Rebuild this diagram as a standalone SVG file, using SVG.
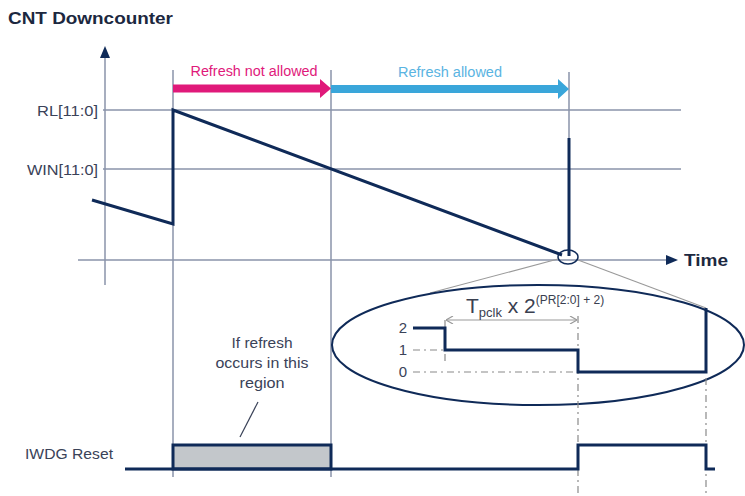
<svg xmlns="http://www.w3.org/2000/svg" width="745" height="496" viewBox="0 0 745 496">
<defs>
<style>
.grid{stroke:#8a93aa;stroke-width:1.5;fill:none}
.sig{stroke:#0f2a58;stroke-width:3;fill:none;stroke-linejoin:miter}
.thin{stroke:#9a9a9a;stroke-width:1.2;fill:none}
.dash{stroke:#8a8a8a;stroke-width:1.2;fill:none;stroke-dasharray:7 4 2 4}
.lbl{font-family:"Liberation Sans",Arial,sans-serif;font-size:15px;fill:#3a4258}
.bold{font-family:"Liberation Sans",Arial,sans-serif;font-weight:bold;fill:#1c2840}
</style>
<marker id="dimL" markerWidth="8" markerHeight="8" refX="0" refY="4" orient="auto" markerUnits="userSpaceOnUse">
<path d="M7,0 L0,4 L7,8" fill="none" stroke="#9a9a9a" stroke-width="1.2"/>
</marker>
<marker id="dimR" markerWidth="8" markerHeight="8" refX="8" refY="4" orient="auto" markerUnits="userSpaceOnUse">
<path d="M1,0 L8,4 L1,8" fill="none" stroke="#9a9a9a" stroke-width="1.2"/>
</marker>
</defs>
<rect width="745" height="496" fill="#ffffff"/>
<text class="bold" x="8" y="24" font-size="17" textLength="165" lengthAdjust="spacingAndGlyphs">CNT Downcounter</text>

<g id="axes">
<line class="grid" x1="105" y1="285" x2="105" y2="56" stroke="#0f2a58"/>
<path d="M100,58 L105,46 L110,58 Z" fill="#0f2a58"/>
<line class="grid" x1="78" y1="260" x2="668" y2="260"/>
<path d="M666,255 L678,260 L666,265 Z" fill="#0f2a58"/>
<text class="bold" x="684" y="266" font-size="17" textLength="44" lengthAdjust="spacingAndGlyphs">Time</text>
</g>

<g id="grid">
<line class="grid" x1="103" y1="110" x2="681" y2="110"/>
<line class="grid" x1="103" y1="169" x2="681" y2="169"/>
<line class="grid" x1="173" y1="70" x2="173" y2="477"/>
<line class="grid" x1="331" y1="70" x2="331" y2="477"/>
<line class="grid" x1="569" y1="72" x2="569" y2="140"/>
<text class="lbl" x="98" y="116" text-anchor="end" textLength="61" lengthAdjust="spacingAndGlyphs">RL[11:0]</text>
<text class="lbl" x="98" y="175" text-anchor="end" textLength="71" lengthAdjust="spacingAndGlyphs">WIN[11:0]</text>
</g>

<g id="refresh-not-allowed">
<path d="M173,84.5 L320,84.5 L320,79 L331,88.5 L320,98 L320,92.5 L173,92.5 Z" fill="#e0197a"/>
<text class="lbl" x="254" y="76" text-anchor="middle" style="font-size:14px;fill:#e0197a" textLength="127" lengthAdjust="spacingAndGlyphs">Refresh not allowed</text>
</g>
<g id="refresh-allowed">
<path d="M331,85 L558,85 L558,79 L569,89 L558,99 L558,93 L331,93 Z" fill="#3aa6da"/>
<text class="lbl" x="450" y="77" text-anchor="middle" style="font-size:14px;fill:#5ab4e2" textLength="104" lengthAdjust="spacingAndGlyphs">Refresh allowed</text>
</g>

<g id="counter">
<path class="sig" d="M92,200 L173,224 L173,110 L562,255"/>
<line class="sig" x1="569" y1="138" x2="569" y2="256"/>
<ellipse cx="568" cy="257" rx="10" ry="7" fill="none" stroke="#0f2a58" stroke-width="1.5"/>
</g>

<g id="connectors">
<line class="thin" x1="558" y1="259" x2="430" y2="293"/>
<line class="thin" x1="578" y1="260" x2="706" y2="308"/>
</g>

<g id="zoom">
<ellipse cx="538" cy="345" rx="206" ry="60" fill="none" stroke="#0f2a58" stroke-width="2"/>
<line class="dash" x1="413" y1="350" x2="445" y2="350"/>
<line class="dash" x1="413" y1="372" x2="578" y2="372"/>
<line class="dash" x1="445" y1="320" x2="445" y2="362"/>
<line class="dash" x1="578" y1="316" x2="578" y2="496"/>
<line class="dash" x1="706" y1="378" x2="706" y2="496"/>
<path class="sig" d="M413,328 L445,328 L445,350 L578,350 L578,372 L706,372 L706,308"/>
<line class="thin" x1="446" y1="320" x2="577" y2="320" marker-start="url(#dimL)" marker-end="url(#dimR)"/>
<text class="lbl" x="403" y="333" text-anchor="middle" font-size="15">2</text>
<text class="lbl" x="403" y="355" text-anchor="middle" font-size="15">1</text>
<text class="lbl" x="403" y="377" text-anchor="middle" font-size="15">0</text>
<text class="lbl" x="466" y="313" style="font-size:21px;fill:#3a4050">T<tspan font-size="13" dy="4">pclk</tspan><tspan dy="-4"> x 2</tspan><tspan font-size="12" dy="-9">(PR[2:0] + 2)</tspan></text>
</g>

<g id="reset">
<text class="lbl" x="25" y="459" textLength="88" lengthAdjust="spacingAndGlyphs">IWDG Reset</text>
<rect x="173" y="445" width="158" height="24" fill="#c3c7cb" stroke="#0f2a58" stroke-width="3"/>
<path class="sig" d="M125,469 L578,469 L578,445 L706,445 L706,469 L715,469"/>
<text class="lbl" x="262" y="348" text-anchor="middle" textLength="61" lengthAdjust="spacingAndGlyphs">If refresh</text>
<text class="lbl" x="262" y="368" text-anchor="middle" textLength="93" lengthAdjust="spacingAndGlyphs">occurs in this</text>
<text class="lbl" x="262" y="388" text-anchor="middle" textLength="45" lengthAdjust="spacingAndGlyphs">region</text>
<line x1="258" y1="402" x2="240" y2="437" stroke="#3a4258" stroke-width="1.2"/>
</g>
</svg>
